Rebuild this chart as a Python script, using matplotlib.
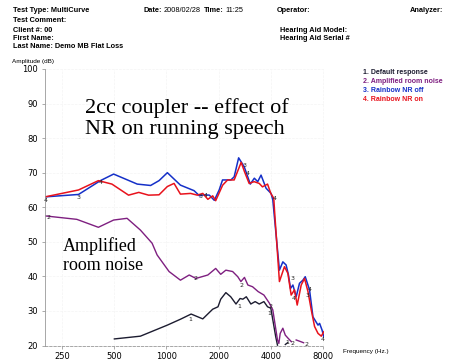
import numpy as np
import matplotlib
matplotlib.use('Agg')
import matplotlib.pyplot as plt

# Rainbow NR off (blue)
off_freq = [200, 312, 417, 497, 680, 812, 908, 1014, 1206, 1445, 1553, 1650, 1770, 1890,
            2016, 2108, 2355, 2460, 2610, 2812, 3046, 3214, 3362, 3514, 3756, 4014, 4107,
            4484, 4692, 4900, 5055, 5193, 5361, 5601, 5852, 6124, 6315, 6686, 6996, 7480,
            7640, 7890, 8080]
off_db = [63.0, 63.7, 67.7, 69.6, 66.7, 66.3, 67.7, 70.0, 66.4, 64.8, 63.3, 63.6, 63.5, 62.0,
          65.0, 67.9, 67.9, 68.8, 74.3, 71.7, 66.7, 68.4, 67.4, 69.3, 65.5, 64.0, 62.1,
          41.8, 44.2, 43.3, 40.4, 36.5, 37.5, 34.1, 38.0, 38.9, 39.9, 36.1, 28.3, 25.9,
          26.4, 24.5, 22.5]

# Rainbow NR on (red)
on_freq = [200, 312, 406, 486, 606, 694, 790, 908, 1014, 1108, 1206, 1380, 1510, 1622,
           1735, 1850, 1925, 2112, 2255, 2460, 2700, 2820, 3000, 3205, 3430, 3580, 3830,
           4000, 4160, 4200, 4484, 4793, 5015, 5240, 5476, 5676, 5986, 6256, 6548, 6841,
           7147, 7480, 7816, 8080]
on_db = [63.0, 65.0, 67.7, 66.7, 63.5, 64.3, 63.5, 63.6, 66.0, 66.9, 63.8, 64.0, 63.5, 64.0,
         62.3, 63.3, 61.9, 66.4, 67.9, 67.9, 73.0, 70.3, 66.9, 67.4, 66.9, 65.9, 66.7,
         64.0, 62.6, 59.2, 38.5, 42.8, 40.9, 34.6, 36.1, 31.7, 37.5, 39.4, 35.6, 30.3,
         25.5, 23.5, 22.7, 24.0]

# Amplified room noise (purple)
noise_freq = [200, 305, 406, 497, 594, 709, 828, 885, 1037, 1206, 1355, 1481, 1735, 1925,
              2058, 2203, 2410, 2580, 2690, 2820, 2950, 3140, 3380, 3650, 3930, 4107, 4370,
              4450, 4530, 4692, 4847, 5030, 5253, 5400, 5600, 5960, 6180]
noise_db = [57.5, 56.5, 54.2, 56.3, 56.8, 53.4, 49.6, 46.2, 41.4, 38.9, 40.4, 39.4, 40.4, 42.3,
            40.6, 41.8, 41.4, 39.9, 38.5, 39.7, 37.5, 37.0, 35.6, 34.6, 32.2, 30.3, 21.6,
            20.6, 23.5, 25.0, 23.0, 22.1, 21.1, np.nan, 21.6, 21.1, 20.8]

# Default response (black)
default_freq = [502, 709, 1014, 1206, 1390, 1622, 1850, 1985, 2058, 2203, 2350, 2520, 2660,
                2760, 2890, 3070, 3250, 3430, 3650, 3830, 4000, 4270, 4370, 4600, 4850, 5000]
default_db = [21.9, 22.7, 25.9, 27.6, 29.1, 27.7, 30.5, 31.2, 33.4, 35.3, 34.1, 32.0, 33.6,
              33.4, 34.1, 32.0, 32.7, 32.0, 32.7, 31.2, 30.8, 22.5, 20.1, np.nan, 20.3, 20.8]

# curve number tags printed along the traces
tag_freq = [203, 312, 417, 209, 1570, 1680, 2820, 2950, 4220, 5360, 5430, 6530, 6690, 7950,
            1370, 2620, 3930, 1470, 2700, 3990, 5000, 5300, 6450]
tag_db = [61.9, 62.9, 67.1, 57.1, 63.0, 63.3, 72.2, 69.8, 62.6, 39.4, 33.6, 34.6, 36.1, 21.6,
          27.4, 31.2, 29.3, 39.4, 37.5, 31.2, 21.0, 20.6, 20.4]
tag_text = ['4', '3', '4', '2', '3', '4', '3', '4', '4', '3', '4', '3', '4', '4',
            '1', '1', '1', '2', '2', '2', '1', '2', '2']

xticks = [250, 500, 1000, 2000, 4000, 8000]
yticks = [20, 30, 40, 50, 60, 70, 80, 90, 100]

legend_labels = ['1. Default response', '2. Amplified room noise',
                 '3. Rainbow NR off', '4. Rainbow NR on']
c_default, c_noise, c_off, c_on = '#1c1c30', '#7e1f80', '#1530c8', '#e8121c'

fig = plt.figure(figsize=(4.64, 3.64), dpi=100)
ax = fig.add_axes([45 / 464, 18.5 / 364, 279 / 464, 276.5 / 364])

ax.plot(default_freq, default_db, color=c_default, lw=1.0)
ax.plot(noise_freq, noise_db, color=c_noise, lw=1.0)
ax.plot(off_freq, off_db, color=c_off, lw=1.1)
ax.plot(on_freq, on_db, color=c_on, lw=1.1)

for f, d, t in zip(tag_freq, tag_db, tag_text):
    ax.text(f, d, t, fontsize=4.5, ha='center', va='center', color='#222222')

ax.set_xscale('log', base=2)
ax.set_xlim(200, 8100)
ax.set_ylim(20, 100)
ax.set_xticks(xticks)
ax.set_xticklabels([str(v) for v in xticks])
ax.minorticks_off()
ax.set_yticks(yticks)
ax.tick_params(labelsize=6, length=2, width=0.5, color='#888888', pad=3)
ax.grid(True, color='#f4f4f4', lw=0.5, ls='--')
for s in ['top', 'right']:
    ax.spines[s].set_visible(False)
ax.spines['left'].set_color('#999999')
ax.spines['left'].set_linewidth(0.6)
ax.spines['bottom'].set_color('#999999')
ax.spines['bottom'].set_linewidth(0.6)
ax.spines['bottom'].set_linestyle((0, (3, 2)))

# big captions
ax.text(0.145, 0.822, '2cc coupler -- effect of\nNR on running speech', transform=ax.transAxes,
        family='Liberation Serif', fontsize=16, va='center', ha='left', linespacing=1.15)
ax.text(0.065, 0.325, 'Amplified\nroom noise', transform=ax.transAxes,
        family='Liberation Serif', fontsize=13, va='center', ha='left', linespacing=1.2)

# header
hdr = dict(fontsize=5.3, fontweight='bold', family='Liberation Sans', va='center')
reg = dict(fontsize=5.3, family='Liberation Sans', va='center')
def px(x, y):
    return x / 464, 1 - y / 364

fig.text(*px(13, 11), 'Test Type: MultiCurve', **hdr)
fig.text(*px(13, 20), 'Test Comment:', **hdr)
fig.text(*px(13, 30), 'Client #: 00', **hdr)
fig.text(*px(13, 38.5), 'First Name:', **hdr)
fig.text(*px(13, 47), 'Last Name: Demo MB Flat Loss', **hdr)
fig.text(*px(143, 11), 'Date:', **hdr)
fig.text(*px(164, 11), '2008/02/28', **reg)
fig.text(*px(204, 11), 'Time:', **hdr)
fig.text(*px(225, 11), '11:25', **reg)
fig.text(*px(277, 11), 'Operator:', **hdr)
fig.text(*px(410, 11), 'Analyzer:', **hdr)
fig.text(*px(280, 30), 'Hearing Aid Model:', **hdr)
fig.text(*px(280, 38.5), 'Hearing Aid Serial #', **hdr)

fig.text(*px(12, 62), 'Amplitude (dB)', fontsize=4.6, family='Liberation Sans', va='center')
fig.text(*px(343, 352), 'Frequency (Hz.)', fontsize=4.6, family='Liberation Sans', va='center')

for i, (lab, col) in enumerate(zip(legend_labels, [c_default, c_noise, c_off, c_on])):
    fig.text(*px(363, 72.3 + 9.2 * i), lab, fontsize=5.0, fontweight='bold',
             family='Liberation Sans', color=col, va='center')

fig.savefig('out.png', dpi=100)
